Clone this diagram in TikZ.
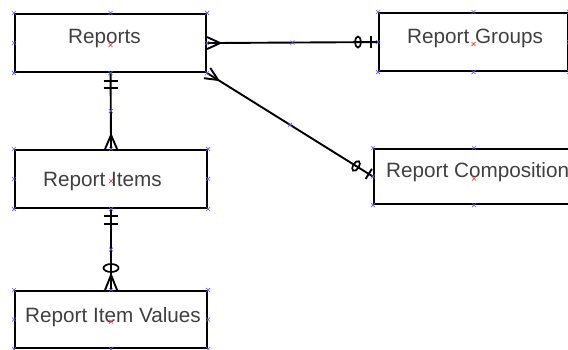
\documentclass[tikz,border=0pt]{standalone}
\usepackage{fontspec}
\setmainfont{Liberation Sans}
\usetikzlibrary{calc,shapes.geometric}
\begin{document}
\begin{tikzpicture}[x=1pt,y=-1pt,
  ent/.style={draw, line width=2.1pt, anchor=north west, inner sep=0pt},
  conn/.style={line width=1.9pt},
  lbl/.style={font=\fontsize{20.7}{24}\selectfont, text=black!75, anchor=base west, inner sep=0pt},
  ring/.style={ellipse, draw, line width=1.7pt, inner sep=0pt},
  bx/.pic={\draw[blue!65, line width=0.6pt] (-2pt,-2pt)--(2pt,2pt) (-2pt,2pt)--(2pt,-2pt);},
  rx/.pic={\draw[red!80, line width=0.6pt] (-2pt,-2pt)--(2pt,2pt) (-2pt,2pt)--(2pt,-2pt);}]
\useasboundingbox (0,0) rectangle (568,349);
\clip (0,0) rectangle (568,349);
\fill[white] (0,0) rectangle (568,349);
% entities
\node[ent, minimum width=191pt, minimum height=58pt] (Reports) at (14,13) {};
\node[ent, minimum width=189pt, minimum height=58pt] (Groups) at (378,12) {};
\node[ent, minimum width=200pt, minimum height=55pt] (Comp) at (373,148) {};
\node[ent, minimum width=192pt, minimum height=58pt] (Items) at (14,149) {};
\node[ent, minimum width=192pt, minimum height=57pt] (Values) at (14,290) {};
% labels
\node[lbl] (tReports) at (68,43) {Reports};
\node[lbl] (tGroups) at (407,43) {Report Groups};
\node[lbl] (tComp) at (386,177) {Report Composition};
\node[lbl] (tItems) at (43,186) {Report Items};
\node[lbl] (tValues) at (25,322) {Report Item Values};
% Reports -- Report Groups
\draw[conn] (Reports.east) -- (Groups.west);
\draw[conn] ($(Reports.east)+(0,-6)$) -- ($(Reports.east)+(13,0)$) -- ($(Reports.east)+(0,6)$);
\draw[conn] ($(Groups.west)+(-7,-6)$) -- ($(Groups.west)+(-7,6)$);
\node[ring, minimum width=6pt, minimum height=11pt] (gring) at ($(Groups.west)+(-20,0)$) {};
% Reports -- Report Composition
\coordinate (d0) at (Reports.south east);
\coordinate (d1) at (Comp.west);
\draw[conn] (d0) -- (d1);
\draw[conn] ($(d0)!6pt!90:(d1)$) -- ($(d0)!13pt!(d1)$) -- ($(d0)!6pt!-90:(d1)$);
\draw[conn] ($(d1)!5pt!(d0)!6pt!90:(d0)$) -- ($(d1)!5pt!(d0)!6pt!-90:(d0)$);
\node[ring, minimum width=6pt, minimum height=11pt, rotate=-31.9] (cring) at ($(d1)!20pt!(d0)$) {};
% Reports -- Report Items
\draw[conn] (Reports.south) -- (Items.north);
\draw[conn] ($(Reports.south)+(-7,8)$) -- ++(14,0);
\draw[conn] ($(Reports.south)+(-7,15)$) -- ++(14,0);
\draw[conn] ($(Items.north)+(-6,0)$) -- ($(Items.north)+(0,-14)$) -- ($(Items.north)+(6,0)$);
% Report Items -- Report Item Values
\draw[conn] (Items.south) -- (Values.north);
\draw[conn] ($(Items.south)+(-7,7)$) -- ++(14,0);
\draw[conn] ($(Items.south)+(-7,15)$) -- ++(14,0);
\node[ring, minimum width=15pt, minimum height=8pt] (vring) at ($(Values.north)+(0,-22)$) {};
\draw[conn] ($(Values.north)+(-6,0)$) -- ($(Values.north)+(0,-15)$) -- ($(Values.north)+(6,0)$);
% connection point markers
\foreach \n in {Reports,Groups,Comp,Items,Values}{
  \foreach \a in {north west,north,north east,west,east,south west,south,south east}{
    \pic at (\n.\a) {bx};
  }
  \pic at ($(\n.center)+(0,2)$) {rx};
}
\pic at ($(Reports.east)!0.5!(Groups.west)$) {bx};
\pic at ($(d0)!0.5!(d1)$) {bx};
\pic at ($(Reports.south)!0.5!(Items.north)$) {bx};
\pic at ($(Items.south)!0.5!(Values.north)$) {bx};
\end{tikzpicture}
\end{document}
